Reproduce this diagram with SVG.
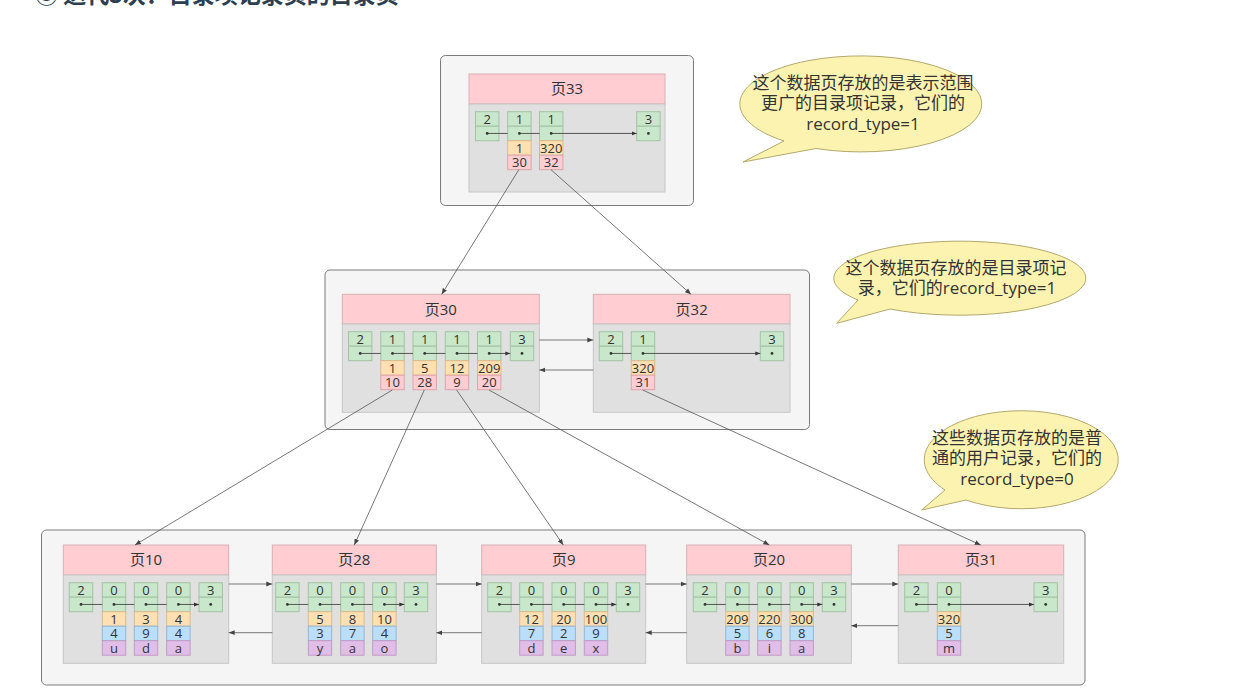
<svg xmlns="http://www.w3.org/2000/svg" width="1255" height="694" viewBox="0 0 1255 694">
<style>
text{font-family:"Open Sans","Noto Sans CJK SC",sans-serif;fill:#333;}
.title{font-family:"Noto Sans CJK SC",sans-serif;font-weight:bold;font-size:23px;fill:#2c3e50;}
.outer{fill:#f5f5f5;stroke:#7a7a7a;stroke-width:1;}
.hdr{fill:#ffcdd2;stroke:#d9b0b5;stroke-width:1;}
.body{fill:#e0e0e0;stroke:#c6c6c6;stroke-width:1;}
.ht{font-size:15px;text-anchor:middle;}
.g{fill:#c9e7cb;stroke:#a2c4a4;stroke-width:1;}
.o{fill:#ffe0b2;stroke:#dbbb8c;stroke-width:1;}
.p{fill:#ffcdd2;stroke:#dca4ab;stroke-width:1;}
.b{fill:#bbdefb;stroke:#93b6d4;stroke-width:1;}
.u{fill:#e1bee7;stroke:#bf9cc6;stroke-width:1;}
.rt{font-size:13px;text-anchor:middle;}
.dot{fill:#333;}
.il{stroke:#333;stroke-width:0.8;fill:none;}
.cl{stroke:#555;stroke-width:0.8;fill:none;}
.call{fill:#fcf3b0;stroke:#b3a86c;stroke-width:1;}
.ct{font-size:17px;text-anchor:middle;}
</style>
<defs>
<marker id="ah" viewBox="0 0 10 10" refX="10" refY="5" markerWidth="6" markerHeight="6" markerUnits="userSpaceOnUse" orient="auto"><path d="M0,1 L10,5 L0,9 z" fill="#444"/></marker>
<marker id="sh" viewBox="0 0 10 10" refX="10" refY="5" markerWidth="5" markerHeight="5" markerUnits="userSpaceOnUse" orient="auto"><path d="M0,1 L10,5 L0,9 z" fill="#333"/></marker>
<g id="gr"><rect class="g" x="0" y="0" width="23.4" height="14.5"/><rect class="g" x="0" y="14.5" width="23.4" height="14.5"/><circle class="dot" cx="11.7" cy="21.75" r="1.4"/></g>
</defs>

<text class="title" x="35" y="2.5">③ 迭代3次：目录项记录页的目录页</text>

<!-- outer containers -->
<g id="outer-top"><rect class="outer" x="440.5" y="55.5" width="253" height="150" rx="5"/></g>
<g id="outer-mid"><rect class="outer" x="325" y="270" width="484.5" height="159.5" rx="5"/></g>
<g id="outer-bottom"><rect class="outer" x="41.5" y="530" width="1043.5" height="155" rx="5"/></g>

<!-- Page 33 -->
<g id="page33">
<rect class="hdr" x="469" y="74" width="196" height="30"/>
<rect class="body" x="469" y="104" width="196" height="88"/>
<text class="ht" x="567" y="94.3">页33</text>
<use href="#gr" x="475.5" y="111.7"/><text class="rt" x="487.2" y="123.5">2</text>
<use href="#gr" x="507.7" y="111.7"/><text class="rt" x="519.4" y="123.5">1</text>
<use href="#gr" x="539.5" y="111.7"/><text class="rt" x="551.2" y="123.5">1</text>
<use href="#gr" x="636.7" y="111.7"/><text class="rt" x="648.4" y="123.5">3</text>
<rect class="o" x="507.7" y="140.7" width="23.4" height="14.5"/><text class="rt" x="519.4" y="152.5">1</text>
<rect class="p" x="507.7" y="155.2" width="23.4" height="14.5"/><text class="rt" x="519.4" y="167">30</text>
<rect class="o" x="539.5" y="140.7" width="23.4" height="14.5"/><text class="rt" x="551.2" y="152.5">320</text>
<rect class="p" x="539.5" y="155.2" width="23.4" height="14.5"/><text class="rt" x="551.2" y="167">32</text>
<path class="il" marker-end="url(#sh)" d="M487.2,133.45 H507.7 M519.4,133.45 H539.5 M551.2,133.45 H636.7"/>
</g>

<!-- Page 30 -->
<g id="page30">
<rect class="hdr" x="342.3" y="294.3" width="197" height="29.7"/>
<rect class="body" x="342.3" y="324" width="197" height="88.3"/>
<text class="ht" x="440.8" y="314.5">页30</text>
<use href="#gr" x="348.5" y="331.7"/><text class="rt" x="360.2" y="343.5">2</text>
<use href="#gr" x="380.8" y="331.7"/><text class="rt" x="392.5" y="343.5">1</text>
<use href="#gr" x="413" y="331.7"/><text class="rt" x="424.7" y="343.5">1</text>
<use href="#gr" x="445.3" y="331.7"/><text class="rt" x="457" y="343.5">1</text>
<use href="#gr" x="477.5" y="331.7"/><text class="rt" x="489.2" y="343.5">1</text>
<use href="#gr" x="510.3" y="331.7"/><text class="rt" x="522" y="343.5">3</text>
<rect class="o" x="380.8" y="360.7" width="23.4" height="14.5"/><text class="rt" x="392.5" y="372.5">1</text>
<rect class="p" x="380.8" y="375.2" width="23.4" height="14.5"/><text class="rt" x="392.5" y="387">10</text>
<rect class="o" x="413" y="360.7" width="23.4" height="14.5"/><text class="rt" x="424.7" y="372.5">5</text>
<rect class="p" x="413" y="375.2" width="23.4" height="14.5"/><text class="rt" x="424.7" y="387">28</text>
<rect class="o" x="445.3" y="360.7" width="23.4" height="14.5"/><text class="rt" x="457" y="372.5">12</text>
<rect class="p" x="445.3" y="375.2" width="23.4" height="14.5"/><text class="rt" x="457" y="387">9</text>
<rect class="o" x="477.5" y="360.7" width="23.4" height="14.5"/><text class="rt" x="489.2" y="372.5">209</text>
<rect class="p" x="477.5" y="375.2" width="23.4" height="14.5"/><text class="rt" x="489.2" y="387">20</text>
<path class="il" marker-end="url(#sh)" d="M360.2,353.45 H380.8 M392.5,353.45 H413 M424.7,353.45 H445.3 M457,353.45 H477.5 M489.2,353.45 H510.3"/>
</g>

<!-- Page 32 -->
<g id="page32">
<rect class="hdr" x="593.3" y="294.3" width="196.7" height="29.7"/>
<rect class="body" x="593.3" y="324" width="196.7" height="88.3"/>
<text class="ht" x="691.7" y="314.5">页32</text>
<use href="#gr" x="599.3" y="331.7"/><text class="rt" x="611" y="343.5">2</text>
<use href="#gr" x="631.3" y="331.7"/><text class="rt" x="643" y="343.5">1</text>
<use href="#gr" x="760.3" y="331.7"/><text class="rt" x="772" y="343.5">3</text>
<rect class="o" x="631.3" y="360.7" width="23.4" height="14.5"/><text class="rt" x="643" y="372.5">320</text>
<rect class="p" x="631.3" y="375.2" width="23.4" height="14.5"/><text class="rt" x="643" y="387">31</text>
<path class="il" marker-end="url(#sh)" d="M611,353.45 H631.3 M643,353.45 H760.3"/>
</g>

<!-- Page 10 -->
<g id="page10">
<rect class="hdr" x="63.3" y="545" width="165.4" height="30"/>
<rect class="body" x="63.3" y="575" width="165.4" height="88.3"/>
<text class="ht" x="146" y="565.3">页10</text>
<use href="#gr" x="69.3" y="582.7"/><text class="rt" x="81" y="594.5">2</text>
<use href="#gr" x="102.3" y="582.7"/><text class="rt" x="114" y="594.5">0</text>
<use href="#gr" x="134.3" y="582.7"/><text class="rt" x="146" y="594.5">0</text>
<use href="#gr" x="166.7" y="582.7"/><text class="rt" x="178.4" y="594.5">0</text>
<use href="#gr" x="199" y="582.7"/><text class="rt" x="210.7" y="594.5">3</text>
<rect class="o" x="102.3" y="611.7" width="23.4" height="14.5"/><text class="rt" x="114" y="623.5">1</text>
<rect class="b" x="102.3" y="626.2" width="23.4" height="14.5"/><text class="rt" x="114" y="638">4</text>
<rect class="u" x="102.3" y="640.7" width="23.4" height="14.5"/><text class="rt" x="114" y="652.5">u</text>
<rect class="o" x="134.3" y="611.7" width="23.4" height="14.5"/><text class="rt" x="146" y="623.5">3</text>
<rect class="b" x="134.3" y="626.2" width="23.4" height="14.5"/><text class="rt" x="146" y="638">9</text>
<rect class="u" x="134.3" y="640.7" width="23.4" height="14.5"/><text class="rt" x="146" y="652.5">d</text>
<rect class="o" x="166.7" y="611.7" width="23.4" height="14.5"/><text class="rt" x="178.4" y="623.5">4</text>
<rect class="b" x="166.7" y="626.2" width="23.4" height="14.5"/><text class="rt" x="178.4" y="638">4</text>
<rect class="u" x="166.7" y="640.7" width="23.4" height="14.5"/><text class="rt" x="178.4" y="652.5">a</text>
<path class="il" marker-end="url(#sh)" d="M81,604.45 H102.3 M114,604.45 H134.3 M146,604.45 H166.7 M178.4,604.45 H199"/>
</g>

<!-- Page 28 -->
<g id="page28">
<rect class="hdr" x="272.3" y="545" width="164" height="30"/>
<rect class="body" x="272.3" y="575" width="164" height="88.3"/>
<text class="ht" x="354.3" y="565.3">页28</text>
<use href="#gr" x="275.7" y="582.7"/><text class="rt" x="287.4" y="594.5">2</text>
<use href="#gr" x="308.3" y="582.7"/><text class="rt" x="320" y="594.5">0</text>
<use href="#gr" x="340.7" y="582.7"/><text class="rt" x="352.4" y="594.5">0</text>
<use href="#gr" x="372.7" y="582.7"/><text class="rt" x="384.4" y="594.5">0</text>
<use href="#gr" x="404.3" y="582.7"/><text class="rt" x="416" y="594.5">3</text>
<rect class="o" x="308.3" y="611.7" width="23.4" height="14.5"/><text class="rt" x="320" y="623.5">5</text>
<rect class="b" x="308.3" y="626.2" width="23.4" height="14.5"/><text class="rt" x="320" y="638">3</text>
<rect class="u" x="308.3" y="640.7" width="23.4" height="14.5"/><text class="rt" x="320" y="652.5">y</text>
<rect class="o" x="340.7" y="611.7" width="23.4" height="14.5"/><text class="rt" x="352.4" y="623.5">8</text>
<rect class="b" x="340.7" y="626.2" width="23.4" height="14.5"/><text class="rt" x="352.4" y="638">7</text>
<rect class="u" x="340.7" y="640.7" width="23.4" height="14.5"/><text class="rt" x="352.4" y="652.5">a</text>
<rect class="o" x="372.7" y="611.7" width="23.4" height="14.5"/><text class="rt" x="384.4" y="623.5">10</text>
<rect class="b" x="372.7" y="626.2" width="23.4" height="14.5"/><text class="rt" x="384.4" y="638">4</text>
<rect class="u" x="372.7" y="640.7" width="23.4" height="14.5"/><text class="rt" x="384.4" y="652.5">o</text>
<path class="il" marker-end="url(#sh)" d="M287.4,604.45 H308.3 M320,604.45 H340.7 M352.4,604.45 H372.7 M384.4,604.45 H404.3"/>
</g>

<!-- Page 9 -->
<g id="page9">
<rect class="hdr" x="481.7" y="545" width="164" height="30"/>
<rect class="body" x="481.7" y="575" width="164" height="88.3"/>
<text class="ht" x="563.7" y="565.3">页9</text>
<use href="#gr" x="487.7" y="582.7"/><text class="rt" x="499.4" y="594.5">2</text>
<use href="#gr" x="519.7" y="582.7"/><text class="rt" x="531.4" y="594.5">0</text>
<use href="#gr" x="552" y="582.7"/><text class="rt" x="563.7" y="594.5">0</text>
<use href="#gr" x="584.3" y="582.7"/><text class="rt" x="596" y="594.5">0</text>
<use href="#gr" x="616.3" y="582.7"/><text class="rt" x="628" y="594.5">3</text>
<rect class="o" x="519.7" y="611.7" width="23.4" height="14.5"/><text class="rt" x="531.4" y="623.5">12</text>
<rect class="b" x="519.7" y="626.2" width="23.4" height="14.5"/><text class="rt" x="531.4" y="638">7</text>
<rect class="u" x="519.7" y="640.7" width="23.4" height="14.5"/><text class="rt" x="531.4" y="652.5">d</text>
<rect class="o" x="552" y="611.7" width="23.4" height="14.5"/><text class="rt" x="563.7" y="623.5">20</text>
<rect class="b" x="552" y="626.2" width="23.4" height="14.5"/><text class="rt" x="563.7" y="638">2</text>
<rect class="u" x="552" y="640.7" width="23.4" height="14.5"/><text class="rt" x="563.7" y="652.5">e</text>
<rect class="o" x="584.3" y="611.7" width="23.4" height="14.5"/><text class="rt" x="596" y="623.5">100</text>
<rect class="b" x="584.3" y="626.2" width="23.4" height="14.5"/><text class="rt" x="596" y="638">9</text>
<rect class="u" x="584.3" y="640.7" width="23.4" height="14.5"/><text class="rt" x="596" y="652.5">x</text>
<path class="il" marker-end="url(#sh)" d="M499.4,604.45 H519.7 M531.4,604.45 H552 M563.7,604.45 H584.3 M596,604.45 H616.3"/>
</g>

<!-- Page 20 -->
<g id="page20">
<rect class="hdr" x="686.7" y="545" width="164.6" height="30"/>
<rect class="body" x="686.7" y="575" width="164.6" height="88.3"/>
<text class="ht" x="769" y="565.3">页20</text>
<use href="#gr" x="693.3" y="582.7"/><text class="rt" x="705" y="594.5">2</text>
<use href="#gr" x="725.7" y="582.7"/><text class="rt" x="737.4" y="594.5">0</text>
<use href="#gr" x="757.7" y="582.7"/><text class="rt" x="769.4" y="594.5">0</text>
<use href="#gr" x="790" y="582.7"/><text class="rt" x="801.7" y="594.5">0</text>
<use href="#gr" x="822.3" y="582.7"/><text class="rt" x="834" y="594.5">3</text>
<rect class="o" x="725.7" y="611.7" width="23.4" height="14.5"/><text class="rt" x="737.4" y="623.5">209</text>
<rect class="b" x="725.7" y="626.2" width="23.4" height="14.5"/><text class="rt" x="737.4" y="638">5</text>
<rect class="u" x="725.7" y="640.7" width="23.4" height="14.5"/><text class="rt" x="737.4" y="652.5">b</text>
<rect class="o" x="757.7" y="611.7" width="23.4" height="14.5"/><text class="rt" x="769.4" y="623.5">220</text>
<rect class="b" x="757.7" y="626.2" width="23.4" height="14.5"/><text class="rt" x="769.4" y="638">6</text>
<rect class="u" x="757.7" y="640.7" width="23.4" height="14.5"/><text class="rt" x="769.4" y="652.5">i</text>
<rect class="o" x="790" y="611.7" width="23.4" height="14.5"/><text class="rt" x="801.7" y="623.5">300</text>
<rect class="b" x="790" y="626.2" width="23.4" height="14.5"/><text class="rt" x="801.7" y="638">8</text>
<rect class="u" x="790" y="640.7" width="23.4" height="14.5"/><text class="rt" x="801.7" y="652.5">a</text>
<path class="il" marker-end="url(#sh)" d="M705,604.45 H725.7 M737.4,604.45 H757.7 M769.4,604.45 H790 M801.7,604.45 H822.3"/>
</g>

<!-- Page 31 -->
<g id="page31">
<rect class="hdr" x="898.3" y="545" width="165.4" height="30"/>
<rect class="body" x="898.3" y="575" width="165.4" height="88.3"/>
<text class="ht" x="981" y="565.3">页31</text>
<use href="#gr" x="904.7" y="582.7"/><text class="rt" x="916.4" y="594.5">2</text>
<use href="#gr" x="937.3" y="582.7"/><text class="rt" x="949" y="594.5">0</text>
<use href="#gr" x="1034" y="582.7"/><text class="rt" x="1045.7" y="594.5">3</text>
<rect class="o" x="937.3" y="611.7" width="23.4" height="14.5"/><text class="rt" x="949" y="623.5">320</text>
<rect class="b" x="937.3" y="626.2" width="23.4" height="14.5"/><text class="rt" x="949" y="638">5</text>
<rect class="u" x="937.3" y="640.7" width="23.4" height="14.5"/><text class="rt" x="949" y="652.5">m</text>
<path class="il" marker-end="url(#sh)" d="M916.4,604.45 H937.3 M949,604.45 H1034"/>
</g>

<!-- connectors -->
<g id="connectors">
<line class="cl" marker-end="url(#ah)" x1="518.8" y1="169.7" x2="441.7" y2="294.3"/>
<line class="cl" marker-end="url(#ah)" x1="551" y1="169.7" x2="691" y2="294.3"/>
<line class="cl" marker-end="url(#ah)" x1="539.3" y1="340" x2="593.3" y2="340"/>
<line class="cl" marker-end="url(#ah)" x1="593.3" y1="370" x2="539.3" y2="370"/>
<line class="cl" marker-end="url(#ah)" x1="392.3" y1="390" x2="135" y2="545"/>
<line class="cl" marker-end="url(#ah)" x1="424.3" y1="390" x2="354.3" y2="545"/>
<line class="cl" marker-end="url(#ah)" x1="456.7" y1="390" x2="563.3" y2="545"/>
<line class="cl" marker-end="url(#ah)" x1="489" y1="390" x2="769.3" y2="545"/>
<line class="cl" marker-end="url(#ah)" x1="642.7" y1="390" x2="980.7" y2="545"/>
<line class="cl" marker-end="url(#ah)" x1="228.7" y1="584" x2="272.3" y2="584"/>
<line class="cl" marker-end="url(#ah)" x1="436.3" y1="584" x2="481.7" y2="584"/>
<line class="cl" marker-end="url(#ah)" x1="645.7" y1="584" x2="686.7" y2="584"/>
<line class="cl" marker-end="url(#ah)" x1="851.3" y1="584" x2="898.3" y2="584"/>
<line class="cl" marker-end="url(#ah)" x1="272.3" y1="632.7" x2="228.7" y2="632.7"/>
<line class="cl" marker-end="url(#ah)" x1="481.7" y1="632.7" x2="436.3" y2="632.7"/>
<line class="cl" marker-end="url(#ah)" x1="686.7" y1="632.7" x2="645.7" y2="632.7"/>
<line class="cl" marker-end="url(#ah)" x1="898.3" y1="625.7" x2="851.3" y2="625.7"/>
</g>

<!-- callouts -->
<g id="callout1">
<path class="call" d="M784,141 L743,162 L816,148.5 A121,48 0 1 0 784,141 Z"/>
<text class="ct" x="863" y="88.5">这个数据页存放的是表示范围</text>
<text class="ct" x="863" y="109">更广的目录项记录，它们的</text>
<text class="ct" x="863" y="129.5">record_type=1</text>
</g>
<g id="callout2">
<path class="call" d="M858,300 L836.7,323.3 L890,309 A126,37 0 1 0 858,300 Z"/>
<text class="ct" x="956" y="273.5">这个数据页存放的是目录项记</text>
<text class="ct" x="957" y="293.5">录，它们的record_type=1</text>
</g>
<g id="callout3">
<path class="call" d="M945,490 L921.7,510 L966,500 A97,49 0 1 0 945,490 Z"/>
<text class="ct" x="1017" y="443.5">这些数据页存放的是普</text>
<text class="ct" x="1017" y="464">通的用户记录，它们的</text>
<text class="ct" x="1017" y="485">record_type=0</text>
</g>
</svg>
